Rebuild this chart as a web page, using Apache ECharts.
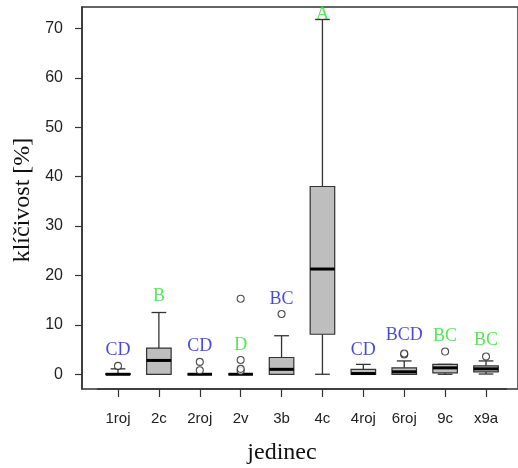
<!DOCTYPE html>
<html>
<head>
<meta charset="utf-8">
<script src="https://cdn.jsdelivr.net/npm/echarts@6/dist/echarts.min.js"></script>
<style>
  html, body { margin: 0; padding: 0; background: #ffffff; }
  #chart { width: 518px; height: 468px; }
</style>
</head>
<body>
<div id="chart"></div>
<script>
// Germination (klíčivost, %) per individual (jedinec)
const categories = ['1roj', '2c', '2roj', '2v', '3b', '4c', '4roj', '6roj', '9c', 'x9a'];

// Five-number summaries: lower whisker, Q1, median, Q3, upper whisker
const whiskerLow  = [0,   0,   0, 0, 0,   0,    0,    0,   0,   0.05];
const quartile1   = [0,   0,   0, 0, 0,   8.1,  0,    0,   0.3, 0.5];
const medians     = [0,   2.8, 0, 0, 1.0, 21.3, 0.15, 0.5, 1.3, 1.1];
const quartile3   = [0.1, 5.3, 0, 0, 3.4, 38.0, 1.0,  1.3, 2.0, 1.7];
const whiskerHigh = [1.1, 12.5, 0, 0, 7.8, 71.8, 2.0, 2.7, 2.0, 2.7];

// Outlying observations per individual
const outliers = [
  [1.7],
  [],
  [0.8, 2.5],
  [0.7, 1.1, 2.9, 15.3],
  [12.2],
  [],
  [],
  [4.0, 4.2],
  [4.6],
  [3.6]
];

// Homogeneous-group letters and the value they are written at
const letters     = ['CD', 'B', 'CD', 'D', 'BC', 'A', 'CD', 'BCD', 'BC', 'BC'];
const letterY     = [4.9, 15.7, 5.7, 5.9, 15.25, 72.8, 4.8, 7.96, 7.76, 6.95];
const letterGreen = [false, true, false, true, false, true, false, false, true, true];

// Y axis tick labels
const yTicks = [0, 10, 20, 30, 40, 50, 60, 70];

const Y_MIN = -2.98;
const Y_MAX = 74.33;

const boxData = categories.map((c, i) =>
  [i, whiskerLow[i], quartile1[i], medians[i], quartile3[i], whiskerHigh[i]]);

const outlierData = [];
outliers.forEach((vals, i) => vals.forEach(v => outlierData.push([i, v])));

const letterData = letters.map((t, i) => ({
  value: [i, letterY[i]],
  label: { formatter: t, color: letterGreen[i] ? '#2ee02e' : '#1c1cd6' }
}));

function renderBox(params, api) {
  const x = api.value(0);
  const band = api.size([1, 0])[0];
  const half = band * 0.3;
  const capHalf = band * 0.18;
  const pLo = api.coord([x, api.value(1)]);
  const pQ1 = api.coord([x, api.value(2)]);
  const pMed = api.coord([x, api.value(3)]);
  const pQ3 = api.coord([x, api.value(4)]);
  const pHi = api.coord([x, api.value(5)]);
  const cx = pMed[0];
  const lineStyle = { stroke: '#333333', lineWidth: 1.3 };
  return {
    type: 'group',
    children: [
      { type: 'line', shape: { x1: cx, y1: pQ3[1], x2: cx, y2: pHi[1] }, style: lineStyle },
      { type: 'line', shape: { x1: cx, y1: pLo[1], x2: cx, y2: pQ1[1] }, style: lineStyle },
      { type: 'line', shape: { x1: cx - capHalf, y1: pHi[1], x2: cx + capHalf, y2: pHi[1] }, style: lineStyle },
      { type: 'line', shape: { x1: cx - capHalf, y1: pLo[1], x2: cx + capHalf, y2: pLo[1] }, style: lineStyle },
      {
        type: 'rect',
        shape: { x: cx - half, y: pQ3[1], width: half * 2, height: pQ1[1] - pQ3[1] },
        style: { fill: '#bebebe', stroke: '#333333', lineWidth: 1.2 }
      },
      { type: 'line', shape: { x1: cx - half, y1: pMed[1], x2: cx + half, y2: pMed[1] },
        style: { stroke: '#000000', lineWidth: 3 } }
    ]
  };
}

const chart = echarts.init(document.getElementById('chart'), null, { renderer: 'canvas' });

const axisFont = 'Liberation Sans, Arial, sans-serif';
const titleFont = 'Liberation Serif, Times New Roman, serif';

chart.setOption({
  animation: false,
  backgroundColor: '#ffffff',
  grid: [
    // outer frame; its right side lies beyond the visible area
    { left: 82, top: 7, width: 480, bottom: 79, show: true,
      borderColor: '#333333', borderWidth: 1.5, backgroundColor: 'transparent' },
    { left: 97.55, top: 7, width: 408.9, bottom: 79 }
  ],
  xAxis: [
    { gridIndex: 0, type: 'value', min: 0, max: 1, show: false },
    {
      gridIndex: 1, type: 'category', data: categories, boundaryGap: true,
      position: 'bottom',
      axisLine: { show: true, onZero: false, lineStyle: { color: '#333333', width: 1.5 } },
      axisTick: { show: true, alignWithLabel: true, length: 8, interval: 0,
        lineStyle: { color: '#333333', width: 1.2 } },
      axisLabel: { interval: 0, margin: 22, fontSize: 15, color: '#222222', fontFamily: axisFont },
      splitLine: { show: false }
    }
  ],
  yAxis: [
    {
      gridIndex: 0, type: 'value', min: Y_MIN, max: Y_MAX,
      position: 'left',
      axisLine: { show: true, onZero: false, lineStyle: { color: '#333333', width: 1.5 } },
      axisTick: { show: true, length: 7, customValues: yTicks,
        lineStyle: { color: '#333333', width: 1.2 } },
      axisLabel: { customValues: yTicks, margin: 19, fontSize: 16, color: '#222222', fontFamily: axisFont },
      splitLine: { show: false }
    },
    { gridIndex: 1, type: 'value', min: Y_MIN, max: Y_MAX, show: false }
  ],
  graphic: [
    { type: 'text', x: 282, y: 453,
      style: { text: 'jedinec', fill: '#111111', font: '24px ' + titleFont,
        textAlign: 'center', textVerticalAlign: 'middle' } },
    { type: 'text', x: 23, y: 200, rotation: Math.PI / 2,
      style: { text: 'klíčivost [%]', fill: '#111111', font: '24px ' + titleFont,
        textAlign: 'center', textVerticalAlign: 'middle' } }
  ],
  series: [
    {
      type: 'custom', xAxisIndex: 1, yAxisIndex: 1,
      renderItem: renderBox,
      encode: { x: 0, y: [1, 2, 3, 4, 5] },
      data: boxData, z: 2
    },
    {
      type: 'scatter', xAxisIndex: 1, yAxisIndex: 1,
      symbol: 'circle', symbolSize: 7,
      itemStyle: { color: '#ffffff', borderColor: '#222222', borderWidth: 1.1 },
      data: outlierData, z: 3
    },
    {
      type: 'scatter', xAxisIndex: 1, yAxisIndex: 1,
      symbolSize: 0,
      label: { show: true, position: 'inside', fontSize: 18, fontFamily: titleFont },
      data: letterData, z: 4
    }
  ]
});
</script>
</body>
</html>
